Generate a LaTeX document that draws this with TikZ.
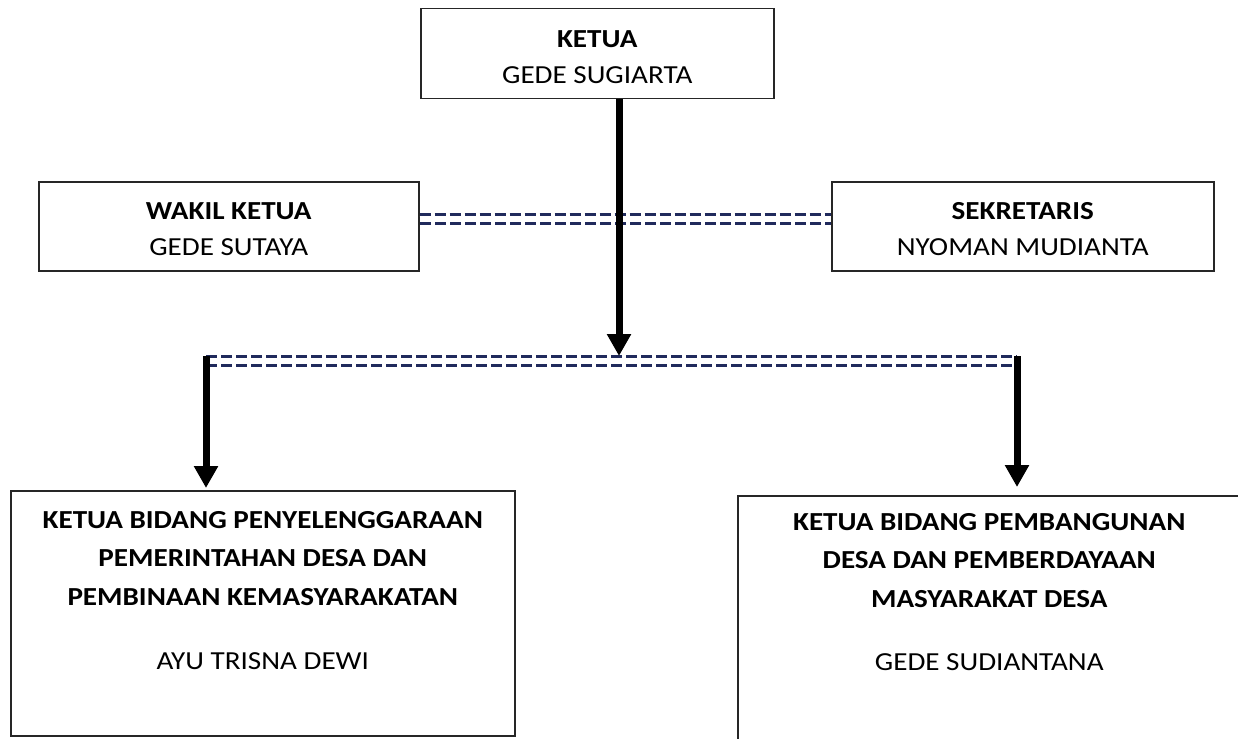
\documentclass[tikz,border=0pt]{standalone}
\usepackage{fontspec}
\setmainfont{Carlito}[FakeStretch=1.12]
\usetikzlibrary{arrows.meta,positioning}
\definecolor{navy}{RGB}{32,42,92}
\newcommand{\toppad}{\rule{0pt}{23pt}}

\begin{document}
\begin{tikzpicture}[x=1pt, y=-1pt,
  box/.style={rectangle, draw=black!85, line width=1.5pt, inner sep=0pt, anchor=north west},
  txt/.style={align=center, inner sep=0pt, font=\fontsize{26}{36}\selectfont},
  bigtxt/.style={align=center, inner sep=0pt, font=\fontsize{26}{38.5}\selectfont},
  dbl/.style={draw=navy, line width=3pt, double=white, double distance=6pt, dash pattern=on 11pt off 4pt},
  arr/.style={line width=7pt, -{Triangle[width=23pt,length=22pt]}}
]
  \useasboundingbox (0,0) rectangle (1238,738);
  \clip (0,0) rectangle (1238,738);

  %% Boxes
  \node[box, txt, minimum width=353pt, minimum height=90pt] (ketua) at (420,8)
    {\toppad\textbf{KETUA}\\GEDE SUGIARTA};
  \node[box, txt, minimum width=380pt, minimum height=89pt] (wakil) at (38,181)
    {\toppad\textbf{WAKIL KETUA}\\GEDE SUTAYA};
  \node[box, txt, minimum width=382pt, minimum height=89pt] (sekretaris) at (831,181)
    {\toppad\textbf{SEKRETARIS}\\NYOMAN MUDIANTA};

  \node[box, minimum width=504pt, minimum height=245pt] (bidangA) at (10,490) {};
  \node[bigtxt, below=21pt of bidangA.north] (bidangAtxt)
    {\textbf{KETUA BIDANG PENYELENGGARAAN}\\\textbf{PEMERINTAHAN DESA DAN}\\\textbf{PEMBINAAN KEMASYARAKATAN}\\[26pt]AYU TRISNA DEWI};
  \node[box, minimum width=503pt, minimum height=250pt] (bidangB) at (737,495) {};
  \node[bigtxt, below=18pt of bidangB.north] (bidangBtxt)
    {\textbf{KETUA BIDANG PEMBANGUNAN}\\\textbf{DESA DAN PEMBERDAYAAN}\\\textbf{MASYARAKAT DESA}\\[25pt]GEDE SUDIANTANA};

  %% Junctions
  \coordinate (hub) at (619,356);
  \coordinate (lend) at (206,360.5);
  \coordinate (rend) at (1017,360.5);

  %% Lines
  \draw[dbl] ([yshift=7.5pt]wakil.east) -- ([yshift=7.5pt]sekretaris.west);
  \draw[dbl] (lend) -- (rend);
  \draw[arr] (ketua.south -| hub) -- (hub);
  \draw[arr, shorten >=2pt] ([yshift=4.5pt]lend) -- (lend |- bidangA.north);
  \draw[arr, shorten >=8pt] ([yshift=4.5pt]rend) -- (rend |- bidangB.north);
\end{tikzpicture}
\end{document}
